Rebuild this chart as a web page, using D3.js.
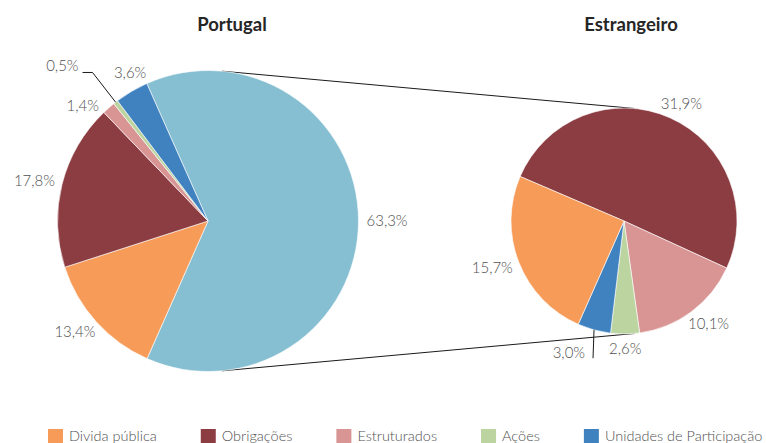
<!DOCTYPE html>
<html>
<head>
<meta charset="utf-8">
<script src="https://cdn.jsdelivr.net/npm/d3@7"></script>
<style>
    body { margin: 0; background: #fff; }
    svg text { font-family: Lato, "Open Sans", sans-serif; }
</style>
</head>
<body>
<svg id="chart" width="766" height="443"></svg>
<script>
// categories (legend order) and colours
const categories = ["Divida pública", "Obrigações", "Estruturados", "Ações", "Unidades de Participação"];
const categoryColors = ["#F79B58", "#8C3D42", "#D89594", "#BBD4A0", "#4082C0"];
const foreignName = "Estrangeiro";
const foreignColor = "#86BFD2";

// Portugal pie, in drawing order (clockwise)
const portugalNames = ["Estrangeiro", "Divida pública", "Obrigações", "Estruturados", "Ações", "Unidades de Participação"];
const portugalValues = [63.3, 13.4, 17.8, 1.4, 0.5, 3.6];

// Estrangeiro pie, in drawing order (clockwise)
const foreignNames = ["Obrigações", "Estruturados", "Ações", "Unidades de Participação", "Divida pública"];
const foreignValues = [31.9, 10.1, 2.6, 3.0, 15.7];

// labels that need a leader line
const leaderLabels = ["Portugal:Ações", "Estrangeiro:Unidades de Participação"];

const titles = ["Portugal", "Estrangeiro"];

const svg = d3.select("#chart");
const labelColor = "#4f4f4f";
const deg = Math.PI / 180;

const colorOf = name => name === foreignName ? foreignColor : categoryColors[categories.indexOf(name)];
const fmt = v => d3.format(".1f")(v).replace(".", ",") + "%";

const leftPie = { cx: 208, cy: 221, r: 150.5, start: -24 * deg, title: titles[0], titleX: 232 };
const rightPie = { cx: 624, cy: 221, r: 113, start: -66.8 * deg, title: titles[1], titleX: 631 };

// connector lines between the two pies
const connectorAngle = 5.3 * deg;
const onEdge = (p, a) => [p.cx + p.r * Math.sin(a), p.cy - p.r * Math.cos(a)];
[connectorAngle, Math.PI - connectorAngle].forEach(a => {
    const p0 = onEdge(leftPie, a);
    const p1 = onEdge(rightPie, a);
    svg.append("line")
        .attr("x1", p0[0]).attr("y1", p0[1])
        .attr("x2", p1[0]).attr("y2", p1[1])
        .attr("stroke", "#1a1a1a")
        .attr("stroke-width", 1);
});

// does a polyline come near a box (cx, cy, w, h)?
const hitsBox = (pts, cx, cy, w, h, pad) => {
    for (let i = 0; i < pts.length - 1; i++) {
        const [x0, y0] = pts[i], [x1, y1] = pts[i + 1];
        const n = Math.ceil(Math.hypot(x1 - x0, y1 - y0));
        for (let k = 0; k <= n; k++) {
            const x = x0 + (x1 - x0) * k / n, y = y0 + (y1 - y0) * k / n;
            if (Math.abs(x - cx) < w / 2 + pad && Math.abs(y - cy) < h / 2 + pad) return true;
        }
    }
    return false;
};

const drawPie = (p, names, values) => {
    const data = names.map((n, i) => ({ name: n, value: values[i] }));
    const pie = d3.pie()
        .sort(null)
        .value(d => d.value)
        .startAngle(p.start)
        .endAngle(p.start + 2 * Math.PI);
    const arc = d3.arc().innerRadius(0).outerRadius(p.r);
    const arcs = pie(data);

    const g = svg.append("g").attr("transform", `translate(${p.cx},${p.cy})`);

    g.selectAll(".slice")
        .data(arcs)
        .join("path")
        .attr("class", "slice")
        .attr("d", arc)
        .attr("fill", d => colorOf(d.data.name))
        .attr("stroke", "#fff")
        .attr("stroke-width", 0.6);

    const isLeader = d => leaderLabels.includes(p.title + ":" + d.data.name);
    const leaders = [];

    // leader labels first
    arcs.filter(isLeader).forEach(d => {
        const mid = (d.startAngle + d.endAngle) / 2;
        const ux = Math.sin(mid), uy = -Math.cos(mid);
        const L = p.r * 0.25;
        const ax = p.r * ux, ay = p.r * uy;
        const side = ux < 0 ? -1 : 1;
        let pts, tx, ty;
        if (Math.abs(uy) > 0.9) {
            // near top/bottom: straight vertical leader
            const ey = ay + Math.sign(uy) * L;
            pts = [[ax, ay], [ax - 1, ey]];
            tx = ax - 9;
            ty = ey;
        } else {
            const ex = (p.r + L) * ux, ey = (p.r + L) * uy;
            const hx = ex + side * 10;
            pts = [[ax, ay], [ex, ey], [hx, ey]];
            tx = hx + side * 4;
            ty = ey - 1;
        }
        leaders.push({ pts, mid });
        g.append("polyline")
            .attr("points", pts.map(q => q.join(",")).join(" "))
            .attr("fill", "none")
            .attr("stroke", "#1a1a1a")
            .attr("stroke-width", 1);
        g.append("text")
            .attr("fill", labelColor)
            .attr("font-size", 15)
            .attr("font-weight", 300)
            .attr("text-anchor", side < 0 ? "end" : "start")
            .attr("x", tx)
            .attr("y", ty)
            .text(fmt(d.data.value));
    });

    // other labels, outside end, turned away from any leader they touch
    arcs.filter(d => !isLeader(d)).forEach(d => {
        const label = g.append("text")
            .attr("fill", labelColor)
            .attr("font-size", 15)
            .attr("font-weight", 300)
            .attr("text-anchor", "middle")
            .attr("dy", "0.35em")
            .text(fmt(d.data.value));
        const w = label.node().getComputedTextLength();
        const h = 14;
        const gap = 8;
        const place = a => {
            const ux = Math.sin(a), uy = -Math.cos(a);
            return [(p.r + gap) * ux + (w / 2) * ux, (p.r + gap) * uy + (h / 2) * uy];
        };
        let a = (d.startAngle + d.endAngle) / 2;
        leaders.forEach(ld => {
            const dir = a > ld.mid ? 1 : -1;
            let steps = 0;
            while (steps < 60 && hitsBox(ld.pts, ...place(a), w, h, 8)) {
                a += dir * 0.5 * deg;
                steps++;
            }
        });
        const [x, y] = place(a);
        label.attr("x", x).attr("y", y);
    });

    svg.append("text")
        .attr("x", p.titleX)
        .attr("y", 31)
        .attr("text-anchor", "middle")
        .attr("font-size", 18.5)
        .attr("font-weight", "bold")
        .attr("fill", "#262626")
        .text(p.title);
};

drawPie(leftPie, portugalNames, portugalValues);
drawPie(rightPie, foreignNames, foreignValues);

// legend
const legend = svg.append("g").attr("class", "legend");
let lx = 48;
categories.forEach((c, i) => {
    legend.append("rect")
        .attr("x", lx)
        .attr("y", 429)
        .attr("width", 15)
        .attr("height", 15)
        .attr("fill", categoryColors[i]);
    const t = legend.append("text")
        .attr("x", lx + 21)
        .attr("y", 441)
        .attr("font-size", 14.5)
        .attr("font-weight", 300)
        .attr("fill", labelColor)
        .text(c);
    lx += 21 + t.node().getComputedTextLength() + 44;
});
</script>
</body>
</html>
